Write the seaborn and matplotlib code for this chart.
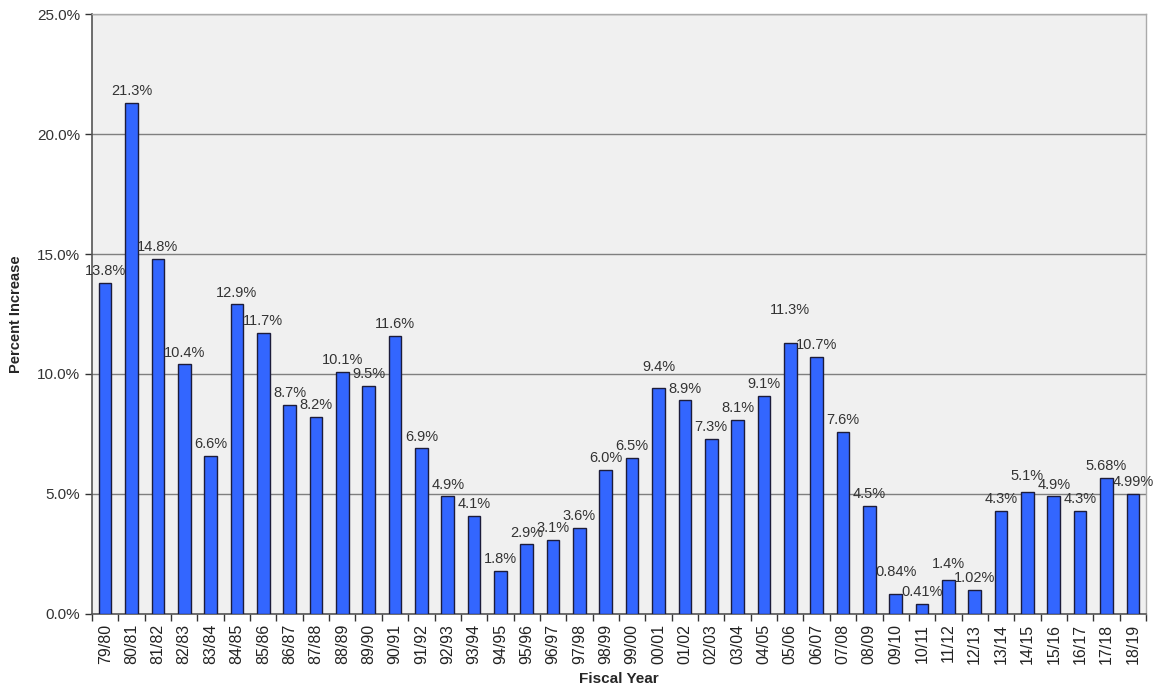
import matplotlib.pyplot as plt
import matplotlib.ticker as mticker
import seaborn as sns
import pandas as pd

# ==============================
# DATA
# ==============================
fiscal_years = [
    "79/80", "80/81", "81/82", "82/83", "83/84", "84/85", "85/86", "86/87",
    "87/88", "88/89", "89/90", "90/91", "91/92", "92/93", "93/94", "94/95",
    "95/96", "96/97", "97/98", "98/99", "99/00", "00/01", "01/02", "02/03",
    "03/04", "04/05", "05/06", "06/07", "07/08", "08/09", "09/10", "10/11",
    "11/12", "12/13", "13/14", "14/15", "15/16", "16/17", "17/18", "18/19",
]
pct_increase = [
    13.8, 21.3, 14.8, 10.4, 6.6, 12.9, 11.7, 8.7,
    8.2, 10.1, 9.5, 11.6, 6.9, 4.9, 4.1, 1.8,
    2.9, 3.1, 3.6, 6.0, 6.5, 9.4, 8.9, 7.3,
    8.1, 9.1, 11.3, 10.7, 7.6, 4.5, 0.84, 0.41,
    1.4, 1.02, 4.3, 5.1, 4.9, 4.3, 5.68, 4.99,
]
value_labels = [
    "13.8%", "21.3%", "14.8%", "10.4%", "6.6%", "12.9%", "11.7%", "8.7%",
    "8.2%", "10.1%", "9.5%", "11.6%", "6.9%", "4.9%", "4.1%", "1.8%",
    "2.9%", "3.1%", "3.6%", "6.0%", "6.5%", "9.4%", "8.9%", "7.3%",
    "8.1%", "9.1%", "11.3%", "10.7%", "7.6%", "4.5%", "0.84%", "0.41%",
    "1.4%", "1.02%", "4.3%", "5.1%", "4.9%", "4.3%", "5.68%", "4.99%",
]

df = pd.DataFrame({"year": fiscal_years, "pct": pct_increase})

# extra upward nudge (points) for labels that sit higher in the original
label_nudge = {"05/06": 15, "00/01": 7, "09/10": 7, "11/12": 3, "14/15": 3}

# ==============================
# STYLE
# ==============================
sns.set_theme(style="white")
plt.rcParams["font.family"] = ["Liberation Sans", "DejaVu Sans"]

fig = plt.figure(figsize=(11.57, 6.94), dpi=100)
ax = fig.add_axes([0.0795, 0.1153, 0.911, 0.8645])
ax.set_facecolor("#f0f0f0")

sns.barplot(
    data=df, x="year", y="pct", color="#3366ff", saturation=1,
    width=0.48, edgecolor="#1c1c3a", linewidth=1, ax=ax, zorder=3,
)

ax.set_ylim(0, 25)
ax.set_xlim(-0.5, len(fiscal_years) - 0.5)
ax.yaxis.set_major_locator(mticker.MultipleLocator(5))
ax.yaxis.set_major_formatter(mticker.FuncFormatter(lambda v, p: f"{v:.1f}%"))
ax.grid(axis="y", color="#7f7f7f", linewidth=1, zorder=1)

# category boundaries as ticks, labels at bar centres
ax.set_xticks([i - 0.5 for i in range(len(fiscal_years) + 1)])
ax.set_xticklabels([])
ax.set_xticks(range(len(fiscal_years)), minor=True)
ax.set_xticklabels(fiscal_years, minor=True, rotation=90, fontsize=11.5, color="#222222")
ax.tick_params(axis="x", which="major", length=5, width=1, color="#333333", direction="out", bottom=True)
ax.tick_params(axis="x", which="minor", length=0, pad=7, bottom=True)
ax.tick_params(axis="y", length=5, width=1, color="#333333", direction="out", left=True,
               labelsize=11, labelcolor="#333333")

for side in ["left", "bottom"]:
    ax.spines[side].set_color("#555555")
    ax.spines[side].set_linewidth(1.2)
for side in ["top", "right"]:
    ax.spines[side].set_color("#aaaaaa")
    ax.spines[side].set_linewidth(1)

for patch, year, lab in zip(ax.patches, fiscal_years, value_labels):
    x = patch.get_x() + patch.get_width() / 2
    y = patch.get_height()
    ax.annotate(
        lab, (x, y), xytext=(0, 3.5 + label_nudge.get(year, 0)), textcoords="offset points",
        ha="center", va="bottom", fontsize=10.5, color="#333333", zorder=4,
    )

ax.set_xlabel("Fiscal Year", fontsize=11, weight="bold", labelpad=6)
ax.set_ylabel("Percent Increase", fontsize=10.5, weight="bold", labelpad=10)

fig.savefig("out.png", dpi=100, facecolor="white")
